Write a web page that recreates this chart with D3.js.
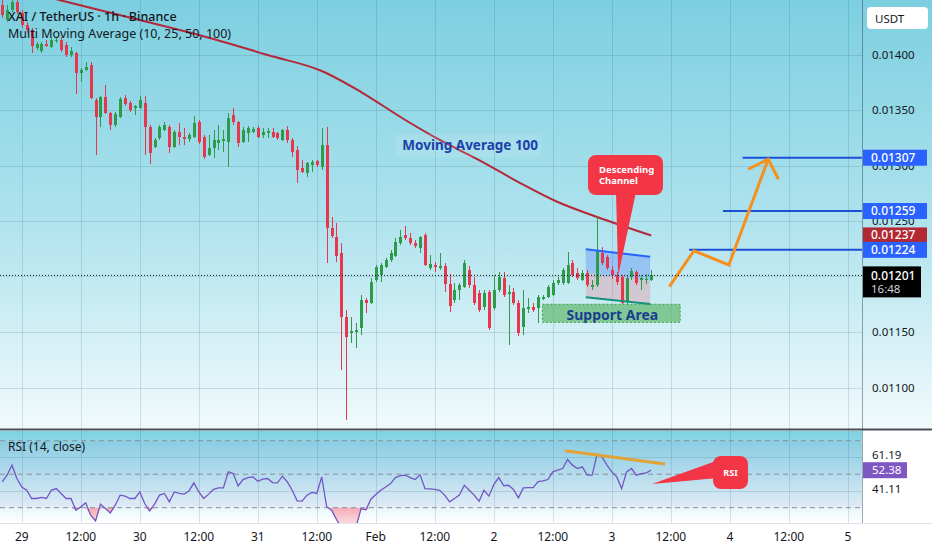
<!DOCTYPE html>
<html><head><meta charset="utf-8">
<script src="https://cdn.jsdelivr.net/npm/d3@7"></script>
<style>
html,body{margin:0;padding:0;background:#fff;}
svg{display:block;font-family:"Noto Sans","Open Sans",sans-serif;}
</style></head>
<body><svg id="c" width="932" height="550"></svg>
<script>
// ---------- DATA (XAI/USDT 1h, Binance) ----------
const firstHour = -4; // first candle: Jan 28 20:00 (hours from Jan 29 00:00)
const open = [0.014446,0.014311,0.014401,0.014473,0.014374,0.014266,0.014221,0.014059,0.014032,0.014095,
0.014068,0.014122,0.014131,0.014086,0.013996,0.014014,0.013833,0.013860,0.013905,0.013590,
0.013437,0.013617,0.013473,0.013365,0.013437,0.013608,0.013563,0.013518,0.013518,0.013563,
0.013347,0.013167,0.013248,0.013320,0.013347,0.013167,0.013302,0.013257,0.013239,0.013257,
0.013392,0.013257,0.013094,0.013157,0.013203,0.013221,0.013212,0.013455,0.013392,0.013212,
0.013293,0.013302,0.013338,0.013275,0.013293,0.013302,0.013293,0.013230,0.013320,0.013230,
0.013140,0.012977,0.012932,0.013004,0.013040,0.012986,0.013184,0.012437,0.012356,0.012211,
0.011635,0.011491,0.011500,0.011536,0.011788,0.011761,0.011968,0.012013,0.012085,0.012148,
0.012184,0.012302,0.012374,0.012347,0.012302,0.012257,0.012374,0.012076,0.012103,0.012076,
0.012094,0.011932,0.011788,0.011878,0.011905,0.012058,0.011923,0.011851,0.011725,0.011860,
0.011716,0.011878,0.011986,0.011842,0.011860,0.011761,0.011545,0.011707,0.011725,0.011716,
0.011797,0.011815,0.011833,0.011941,0.011941,0.011941,0.012121,0.012031,0.011968,0.012031,
0.011905,0.011923,0.012211,0.012175,0.012058,0.012013,0.011995,0.011770,0.011995,0.012040,
0.011968,0.011968,0.011968];
const high = [0.014536,0.014446,0.014518,0.014509,0.014401,0.014293,0.014239,0.014113,0.014113,0.014131,
0.014149,0.014149,0.014158,0.014113,0.014068,0.014023,0.013878,0.013932,0.013932,0.013608,
0.013626,0.013725,0.013482,0.013482,0.013617,0.013635,0.013581,0.013545,0.013626,0.013626,
0.013365,0.013248,0.013365,0.013392,0.013365,0.013320,0.013383,0.013338,0.013293,0.013446,
0.013410,0.013275,0.013275,0.013320,0.013365,0.013320,0.013473,0.013518,0.013401,0.013347,
0.013356,0.013347,0.013356,0.013338,0.013338,0.013338,0.013302,0.013329,0.013356,0.013248,
0.013176,0.013049,0.013031,0.013049,0.013049,0.013338,0.013347,0.012536,0.012482,0.012301,
0.011698,0.011635,0.011581,0.011833,0.011806,0.011986,0.012103,0.012121,0.012166,0.012239,
0.012347,0.012419,0.012455,0.012392,0.012329,0.012365,0.012392,0.012194,0.012130,0.012212,
0.012121,0.012022,0.011941,0.011941,0.012148,0.012094,0.011995,0.011878,0.011878,0.011878,
0.012013,0.012040,0.012040,0.011923,0.011896,0.011788,0.011878,0.011806,0.011761,0.011833,
0.011833,0.011923,0.011968,0.011995,0.012076,0.012221,0.012148,0.012076,0.012058,0.012058,
0.011968,0.012536,0.012266,0.012194,0.012094,0.012040,0.012013,0.012004,0.012076,0.012058,
0.012013,0.012022,0.012058];
const low = [0.014329,0.014293,0.014383,0.014365,0.014239,0.014194,0.014013,0.014041,0.014013,0.014068,
0.014059,0.014104,0.014023,0.013977,0.013977,0.013644,0.013752,0.013851,0.013599,0.013094,
0.013347,0.013464,0.013320,0.013347,0.013428,0.013536,0.013482,0.013455,0.013509,0.013094,
0.013013,0.013158,0.013230,0.013311,0.013112,0.013158,0.013185,0.013185,0.013212,0.013248,
0.013194,0.013059,0.013085,0.013068,0.013140,0.013122,0.012986,0.013365,0.013167,0.013203,
0.013212,0.013293,0.013248,0.013248,0.013248,0.013248,0.013230,0.013221,0.013203,0.013076,
0.012842,0.012932,0.012896,0.012941,0.012986,0.012959,0.012121,0.012347,0.012130,0.011157,
0.010707,0.011400,0.011355,0.011473,0.011671,0.011752,0.011950,0.011950,0.012076,0.012130,
0.012175,0.012284,0.012329,0.012284,0.012257,0.012212,0.012094,0.012058,0.012040,0.012058,
0.011860,0.011680,0.011761,0.011788,0.011896,0.011896,0.011743,0.011680,0.011698,0.011518,
0.011698,0.011860,0.011815,0.011383,0.011743,0.011464,0.011473,0.011671,0.011680,0.011581,
0.011788,0.011806,0.011824,0.011923,0.011923,0.011932,0.011995,0.011968,0.011959,0.011905,
0.011878,0.011905,0.012103,0.012058,0.011977,0.011923,0.011752,0.011743,0.011968,0.011923,
0.011878,0.011932,0.011959];
const close = [0.014356,0.014401,0.014473,0.014383,0.014266,0.014221,0.014077,0.014095,0.014095,0.014077,
0.014131,0.014131,0.014041,0.013996,0.014032,0.013833,0.013860,0.013887,0.013608,0.013437,
0.013617,0.013473,0.013365,0.013464,0.013599,0.013554,0.013500,0.013536,0.013590,0.013347,
0.013112,0.013230,0.013347,0.013365,0.013167,0.013302,0.013257,0.013239,0.013275,0.013383,
0.013212,0.013077,0.013157,0.013230,0.013230,0.013239,0.013428,0.013392,0.013203,0.013320,
0.013338,0.013329,0.013257,0.013302,0.013311,0.013257,0.013248,0.013320,0.013230,0.013122,
0.012959,0.012941,0.013022,0.013031,0.013004,0.013184,0.012437,0.012365,0.012184,0.011635,
0.011455,0.011509,0.011518,0.011788,0.011761,0.011950,0.012085,0.012103,0.012148,0.012212,
0.012311,0.012356,0.012347,0.012302,0.012275,0.012356,0.012103,0.012112,0.012085,0.012094,
0.011932,0.011734,0.011878,0.011923,0.012121,0.011923,0.011761,0.011698,0.011851,0.011536,
0.011878,0.011995,0.011833,0.011860,0.011761,0.011491,0.011716,0.011725,0.011698,0.011815,
0.011815,0.011905,0.011941,0.011968,0.012058,0.012103,0.012013,0.011986,0.012031,0.011923,
0.011923,0.012238,0.012121,0.012076,0.012013,0.011950,0.011761,0.011986,0.012049,0.011941,
0.011986,0.011977,0.012010];
const rsi = [45.4,49.4,55.4,47.4,42.4,40.4,35.5,35.5,36.1,35.5,
40.4,41.4,38.5,35.5,35.5,28.5,30.5,32.9,25.5,22.1,
32.1,29.5,26.9,31.5,37.5,36.9,35.5,35.5,39.4,32.5,
28.1,32.1,37.5,38.5,33.5,39.4,38.5,38.1,40.0,44.8,
39.4,35.5,38.1,40.9,41.8,41.8,51.4,50.4,43.0,46.8,
48.0,48.4,45.8,47.0,47.4,45.0,44.8,48.8,45.4,40.4,
34.1,33.9,37.5,39.1,38.5,48.4,30.6,28.5,23.0,18.0,
15.0,17.0,19.0,29.3,28.7,35.1,37.9,40.4,42.4,44.4,
48.0,49.2,49.4,48.0,46.8,49.6,41.4,41.2,40.9,40.4,
37.5,33.5,35.5,37.5,43.4,40.4,37.5,33.9,40.4,36.9,
43.8,48.0,43.2,43.4,40.9,35.9,41.8,42.0,42.0,45.6,
46.0,46.8,51.4,52.4,53.4,58.8,55.4,53.4,54.4,49.4,
49.4,61.9,60.3,55.4,51.4,48.4,41.4,51.4,53.4,49.4,
50.4,50.8,52.38];
// Moving Average 100 read at sample hours
const maHours  = [-4, 8, 24, 39, 50, 61, 69, 78, 85, 93, 101, 109, 117, 128];
const maValues = [0.014626,0.014487,0.014311,0.014140,0.013995,0.013851,0.013662,0.013410,0.013230,0.013049,0.012851,0.012671,0.012536,0.012370];
const priceTicks = [0.0110,0.0115,0.0120,0.0125,0.0130,0.0135,0.0140];
const timeTickHours = [0,12,24,36,48,60,72,84,96,108,120,132,144,156,168];
const timeTickLabels = ["29","12:00","30","12:00","31","12:00","Feb","12:00","2","12:00","3","12:00","4","12:00","5"];
const rsiBands = [70,50,30];
const rsiGrid = [60,40];
const lastPrice = 0.01201, lastPriceTimer = "16:48";
const maLast = 0.01237;
const rsiLast = 52.38, rsiUpper = 61.19, rsiLower = 41.11;
// drawings
const levelPrices = [0.01307, 0.01259, 0.01224];
const levelFromHours = [146.6, 142.6, 135.7];
const channelHours = [114.7, 127.8];
const channelTop = [0.012245, 0.012178];
const channelBottom = [0.011813, 0.011752];
const supportHours = [105.9, 133.9];
const supportPrices = [0.011587, 0.011750];
const projHours  = [131.7, 136.7, 143.8, 151.8];
const projPrices = [0.011908, 0.012232, 0.012104, 0.013056];
const arrowHours = [147.7, 151.8, 153.9];
const arrowPrices = [0.012966, 0.013056, 0.012876];
const rsiTrendHours = [110.5, 130.8];
const rsiTrendValues = [64.0, 56.1];

// ---------- LAYOUT ----------
const paneR = 862, mainBottom = 429, rsiTop = 431, rsiBottom = 523;
const svg = d3.select('#c');
const defs = svg.append('defs');
function vgrad(id, stops){
  const g = defs.append('linearGradient').attr('id',id).attr('x1',0).attr('y1',0).attr('x2',0).attr('y2',1);
  stops.forEach(s=>g.append('stop').attr('offset',s[0]).attr('stop-color',s[1]).attr('stop-opacity',s[2]===undefined?1:s[2]));
}
vgrad('gMain',[[0,'#7ccfe0'],[0.5,'#ade2ed'],[1,'#f1fafc']]);
vgrad('gRsi',[[0,'#7ed2e2'],[0.55,'#c3eaf2'],[1,'#ffffff']]);
vgrad('gPink',[[0,'#f7a1ad',0.9],[1,'#ffe3e8',0.6]]);
defs.append('clipPath').attr('id','clipMain').append('rect').attr('x',0).attr('y',0).attr('width',paneR).attr('height',mainBottom);
defs.append('clipPath').attr('id','clipRsi').append('rect').attr('x',0).attr('y',rsiTop).attr('width',paneR).attr('height',rsiBottom-rsiTop);

const x = d3.scaleLinear().domain([-4.434, 170.88]).range([0, paneR]);
const y = d3.scaleLinear().domain([0.011, 0.014]).range([387.5, 54.5]);
const yR = d3.scaleLinear().domain([30, 70]).range([507.7, 440.7]);
const hours = close.map((_, i) => firstHour + i);

// backgrounds
svg.append('rect').attr('width',932).attr('height',550).attr('fill','#ffffff');
svg.append('rect').attr('x',0).attr('y',0).attr('width',932).attr('height',mainBottom).attr('fill','url(#gMain)');
svg.append('rect').attr('x',0).attr('y',rsiTop).attr('width',paneR).attr('height',rsiBottom-rsiTop).attr('fill','url(#gRsi)');
svg.append('rect').attr('x',0).attr('y',yR(70)).attr('width',paneR).attr('height',yR(30)-yR(70)).attr('fill','rgba(126,87,194,0.07)');

// grid
const gridC = 'rgba(30,90,110,0.16)';
const grid = svg.append('g').attr('shape-rendering','crispEdges');
grid.selectAll('.vg').data(timeTickHours).join('line')
  .attr('x1',d=>Math.round(x(d))+0.5).attr('x2',d=>Math.round(x(d))+0.5)
  .attr('y1',0).attr('y2',rsiBottom).attr('stroke',gridC);
grid.selectAll('.hg').data(priceTicks).join('line')
  .attr('x1',0).attr('x2',paneR).attr('y1',d=>Math.round(y(d))+0.5).attr('y2',d=>Math.round(y(d))+0.5).attr('stroke',gridC);
grid.selectAll('.rg').data(rsiGrid).join('line')
  .attr('x1',0).attr('x2',paneR).attr('y1',d=>Math.round(yR(d))+0.5).attr('y2',d=>Math.round(yR(d))+0.5).attr('stroke',gridC);

// ---------- MAIN PANE ----------
const main = svg.append('g').attr('clip-path','url(#clipMain)');

// support area
main.append('rect')
  .attr('x',x(supportHours[0])).attr('y',y(supportPrices[1]))
  .attr('width',x(supportHours[1])-x(supportHours[0])).attr('height',y(supportPrices[0])-y(supportPrices[1]))
  .attr('fill','rgba(80,178,90,0.62)').attr('stroke','#3f9f4a').attr('stroke-dasharray','2,2').attr('stroke-width',1);

// channel fills
const cx0 = x(channelHours[0]), cx1 = x(channelHours[1]);
const mid0 = (channelTop[0]+channelBottom[0])/2, mid1 = (channelTop[1]+channelBottom[1])/2;
main.append('polygon').attr('points',[[cx0,y(channelTop[0])],[cx1,y(channelTop[1])],[cx1,y(mid1)],[cx0,y(mid0)]].join(' '))
  .attr('fill','rgba(70,120,250,0.33)');
main.append('polygon').attr('points',[[cx0,y(mid0)],[cx1,y(mid1)],[cx1,y(channelBottom[1])],[cx0,y(channelBottom[0])]].join(' '))
  .attr('fill','rgba(242,110,130,0.28)');

// MA 100
main.append('path').datum(maHours.map((h,i)=>[h,maValues[i]]))
  .attr('d',d3.line().x(d=>x(d[0])).y(d=>y(d[1])).curve(d3.curveMonotoneX))
  .attr('fill','none').attr('stroke','#b3283a').attr('stroke-width',2);

// candles
const upC = '#2e9b4a', dnC = '#e5384e';
const cg = main.append('g').attr('shape-rendering','crispEdges');
const idx = d3.range(close.length);
const cxp = i => Math.round(x(hours[i])) + 0.5;
cg.selectAll('.wick').data(idx).join('line')
  .attr('x1',cxp).attr('x2',cxp)
  .attr('y1',i=>y(high[i])).attr('y2',i=>y(low[i]))
  .attr('stroke',i=>close[i]>=open[i]?upC:dnC).attr('stroke-width',1);
cg.selectAll('.body').data(idx).join('rect')
  .attr('x',i=>cxp(i)-1.5).attr('width',3)
  .attr('y',i=>y(Math.max(open[i],close[i])))
  .attr('height',i=>Math.max(1,Math.abs(y(open[i])-y(close[i]))))
  .attr('fill',i=>close[i]>=open[i]?upC:dnC);

// channel borders
main.append('line').attr('x1',cx0).attr('x2',cx1).attr('y1',y(channelTop[0])).attr('y2',y(channelTop[1]))
  .attr('stroke','#2962ff').attr('stroke-width',2);
main.append('line').attr('x1',cx0).attr('x2',cx1).attr('y1',y(channelBottom[0])).attr('y2',y(channelBottom[1]))
  .attr('stroke','#12917c').attr('stroke-width',2);

// resistance levels
main.selectAll('.lvl').data(levelPrices).join('line')
  .attr('x1',(d,i)=>x(levelFromHours[i])).attr('x2',paneR)
  .attr('y1',d=>y(d)).attr('y2',d=>y(d))
  .attr('stroke','#1d4fd6').attr('stroke-width',2);

// projection arrow
const lineXY = d3.line().x(d=>x(d[0])).y(d=>y(d[1]));
main.append('path').datum(projHours.map((h,i)=>[h,projPrices[i]])).attr('d',lineXY)
  .attr('fill','none').attr('stroke','#f5901c').attr('stroke-width',3).attr('stroke-linejoin','miter');
main.append('path').datum(arrowHours.map((h,i)=>[h,arrowPrices[i]])).attr('d',lineXY)
  .attr('fill','none').attr('stroke','#f5901c').attr('stroke-width',3);

// current price dotted line
main.append('line').attr('x1',0).attr('x2',paneR).attr('y1',y(lastPrice)).attr('y2',y(lastPrice))
  .attr('stroke','#111').attr('stroke-width',1).attr('stroke-dasharray','1,2');

// Moving Average label
main.append('rect').attr('x',396).attr('y',134).attr('width',145).attr('height',23).attr('rx',3)
  .attr('fill','rgba(255,255,255,0.10)');
main.append('text').attr('x',x(77.4)).attr('y',150).text('Moving Average 100')
  .attr('font-size',13.5).attr('font-weight',700).attr('fill','#1d41a8');

// Support Area text
main.append('text').attr('x',(x(supportHours[0])+x(supportHours[1]))/2+1).attr('y',319.5)
  .attr('text-anchor','middle').text('Support Area')
  .attr('font-size',14).attr('font-weight',700).attr('fill','#1b3d8f');

// Descending Channel callout
const callC = '#f23645';
main.append('polygon').attr('points',[[616,192],[636,192],[x(121.3),y(lastPrice)]].join(' ')).attr('fill',callC);
main.append('rect').attr('x',588).attr('y',155).attr('width',75).attr('height',40).attr('rx',8).attr('fill',callC);
main.append('text').attr('x',599).attr('y',172.5).text('Descending').attr('font-size',9.5).attr('font-weight',700).attr('fill','#fff');
main.append('text').attr('x',599).attr('y',184).text('Channel').attr('font-size',9.5).attr('font-weight',700).attr('fill','#fff');

// legend
svg.append('text').attr('x',8).attr('y',21).text('XAI / TetherUS · 1h · Binance')
  .attr('font-size',12.5).attr('font-weight',500).attr('fill','#131722');
svg.append('text').attr('x',8).attr('y',38).text('Multi Moving Average (10, 25, 50, 100)')
  .attr('font-size',12.5).attr('fill','#131722');

// ---------- RSI PANE ----------
const rp = svg.append('g').attr('clip-path','url(#clipRsi)');
rp.append('path').datum(idx)
  .attr('d',d3.area().x(i=>x(hours[i])).y0(yR(30)).y1(i=>yR(Math.min(30,rsi[i]))))
  .attr('fill','url(#gPink)');
rp.selectAll('.band').data(rsiBands).join('line')
  .attr('x1',0).attr('x2',paneR).attr('y1',d=>yR(d)).attr('y2',d=>yR(d))
  .attr('stroke','#8a8f98').attr('stroke-width',1).attr('stroke-dasharray','5,4');
rp.append('path').datum(idx)
  .attr('d',d3.line().x(i=>x(hours[i])).y(i=>yR(rsi[i])))
  .attr('fill','none').attr('stroke','#7256c4').attr('stroke-width',1.3);
rp.append('line').attr('x1',x(rsiTrendHours[0])).attr('x2',x(rsiTrendHours[1]))
  .attr('y1',yR(rsiTrendValues[0])).attr('y2',yR(rsiTrendValues[1]))
  .attr('stroke','#e2a236').attr('stroke-width',3);
svg.append('text').attr('x',8).attr('y',451).text('RSI (14, close)').attr('font-size',12).attr('fill','#131722');

// RSI callout
svg.append('polygon').attr('points',[[652,484],[716,461],[718,478]].join(' ')).attr('fill',callC);
svg.append('rect').attr('x',713).attr('y',456).attr('width',35).attr('height',33).attr('rx',8).attr('fill',callC);
svg.append('text').attr('x',730.5).attr('y',476).attr('text-anchor','middle').text('RSI')
  .attr('font-size',9).attr('font-weight',700).attr('fill','#fff');

// ---------- AXES ----------
svg.append('rect').attr('x',0).attr('y',mainBottom-0.5).attr('width',932).attr('height',2).attr('fill','#4a4f57');
svg.append('rect').attr('x',paneR).attr('y',rsiTop+1).attr('width',70).attr('height',rsiBottom-rsiTop-1).attr('fill','#ffffff');
svg.append('line').attr('x1',paneR+0.5).attr('x2',paneR+0.5).attr('y1',0).attr('y2',rsiBottom)
  .attr('stroke','rgba(40,60,70,0.45)').attr('stroke-width',1);
svg.append('line').attr('x1',0).attr('x2',932).attr('y1',rsiBottom+0.5).attr('y2',rsiBottom+0.5)
  .attr('stroke','#e0e3eb').attr('stroke-width',1);

// price axis labels (the tick hidden under the last-price tag is not drawn)
const axT = svg.append('g').attr('font-size',11.5).attr('fill','#131722');
axT.selectAll('text').data(priceTicks.filter(d => Math.abs(y(d) - y(lastPrice)) > 16)).join('text')
  .attr('x',872).attr('y',d=>y(d)+4).text(d=>d3.format('.5f')(d));

// USDT box
svg.append('rect').attr('x',867).attr('y',7).attr('width',61).attr('height',22).attr('rx',4).attr('fill','#ffffff');
svg.append('text').attr('x',875).attr('y',22.5).text('USDT').attr('font-size',11.5).attr('fill','#131722');

function tag(v, yy, bg, fg, h){
  svg.append('rect').attr('x',863).attr('y',yy-h/2).attr('width',64).attr('height',h).attr('fill',bg);
  svg.append('text').attr('x',871).attr('y',yy+4).text(v).attr('font-size',12).attr('font-weight',500).attr('fill',fg);
}
tag(d3.format('.5f')(levelPrices[0]), y(levelPrices[0]), '#2962ff', '#fff', 16);
tag(d3.format('.5f')(levelPrices[1]), y(levelPrices[1]), '#2962ff', '#fff', 16);
tag(d3.format('.5f')(maLast), y(maLast), '#b22833', '#fff', 16);
tag(d3.format('.5f')(levelPrices[2]), y(levelPrices[2]), '#2962ff', '#fff', 16);
// last price label
svg.append('rect').attr('x',863).attr('y',y(lastPrice)-9).attr('width',58).attr('height',31).attr('fill','#000');
svg.append('text').attr('x',871).attr('y',y(lastPrice)+4.5).text(d3.format('.5f')(lastPrice)).attr('font-size',12).attr('font-weight',500).attr('fill','#fff');
svg.append('text').attr('x',871).attr('y',y(lastPrice)+18).text(lastPriceTimer).attr('font-size',11.5).attr('fill','#cfd3da');

// RSI axis labels
svg.append('text').attr('x',872).attr('y',yR(rsiUpper)+4).text(d3.format('.2f')(rsiUpper)).attr('font-size',11.5).attr('fill','#131722');
svg.append('text').attr('x',872).attr('y',yR(rsiLower)+4).text(d3.format('.2f')(rsiLower)).attr('font-size',11.5).attr('fill','#131722');
svg.append('rect').attr('x',863).attr('y',yR(rsiLast)-8).attr('width',44).attr('height',16).attr('fill','#7e57c2');
svg.append('text').attr('x',872).attr('y',yR(rsiLast)+4).text(d3.format('.2f')(rsiLast)).attr('font-size',11.5).attr('fill','#fff');

// time axis
svg.append('g').selectAll('text').data(timeTickHours).join('text')
  .attr('x',d=>x(d)).attr('y',541).attr('text-anchor','middle')
  .text((d,i)=>timeTickLabels[i]).attr('font-size',12).attr('fill','#131722');
</script></body></html>
